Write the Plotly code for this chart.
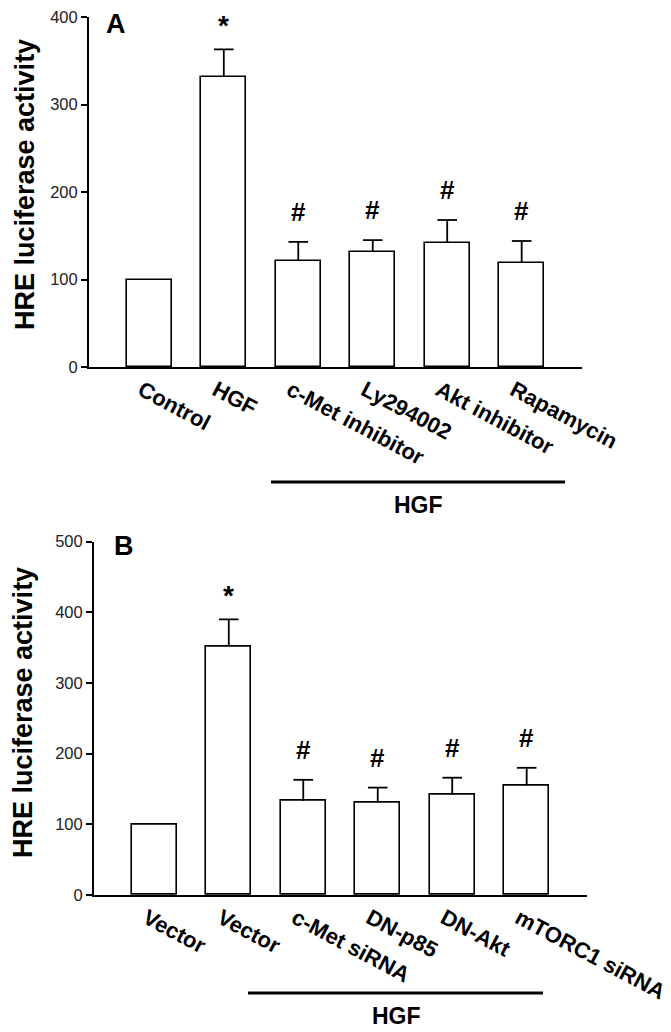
import plotly.graph_objects as go

# ---- data ----
cats_a = ["Control", "HGF", "c-Met inhibitor", "Ly294002", "Akt inhibitor", "Rapamycin"]
vals_a = [100, 332, 121, 132, 142, 119]
errs_a = [0, 31, 22, 13, 26, 25]
marks_a = ["", "*", "#", "#", "#", "#"]

cats_b = ["Vector", "Vector", "c-Met siRNA", "DN-p85", "DN-Akt", "mTORC1 siRNA"]
vals_b = [100, 352, 133, 131, 142, 155]
errs_b = [0, 38, 30, 21, 24, 25]
marks_b = ["", "*", "#", "#", "#", "#"]

yticks_a = [0, 100, 200, 300, 400]
yticks_b = [0, 100, 200, 300, 400, 500]

FONT = "Liberation Sans, Arial, sans-serif"
OFF = 8                      # page body margin offset
W, H = 671 - OFF, 1032 - OFF

def py(p):
    return 1 - (p - OFF) / H

def px(p):
    return (p - OFF) / W

fig = go.Figure()

for cats, vals, errs, xa, ya in [(cats_a, vals_a, errs_a, "x", "y"),
                                 (cats_b, vals_b, errs_b, "x2", "y2")]:
    xs = list(range(len(cats)))
    sx, sy, cx, cy = [], [], [], []
    for i, (v, e) in enumerate(zip(vals, errs)):
        if e > 0:
            sx += [i, i, None]
            sy += [v, v + e, None]
            cx.append(i)
            cy.append(v + e)
    fig.add_trace(go.Scatter(x=sx, y=sy, mode="lines",
                             line=dict(color="black", width=1.8),
                             xaxis=xa, yaxis=ya, showlegend=False, hoverinfo="skip"))
    fig.add_trace(go.Scatter(x=cx, y=cy, mode="markers",
                             marker=dict(symbol="line-ew", size=14,
                                         line=dict(color="black", width=1.8)),
                             xaxis=xa, yaxis=ya, showlegend=False, hoverinfo="skip"))
    fig.add_trace(go.Bar(
        x=xs, y=vals,
        marker=dict(color="white", line=dict(color="black", width=1.6)),
        width=0.6,
        xaxis=xa, yaxis=ya, showlegend=False, hoverinfo="skip",
    ))

xcommon = dict(range=[-0.81, 5.81], showline=True, linecolor="black", linewidth=2,
               ticks="", tickangle=28, showgrid=False, zeroline=False, automargin=False,
               ticklabelshift=-8, ticklabeloverflow="allow",
               tickfont=dict(family=FONT, size=22, color="black", weight="bold"),
               tickvals=list(range(6)))
ycommon = dict(showline=True, linecolor="black", linewidth=2, ticks="outside",
               ticklen=6, tickwidth=1.5, tickcolor="black", showgrid=False,
               zeroline=False, automargin=False, ticklabeloverflow="allow",
               tickfont=dict(family=FONT, size=16.5, color="#222"))

fig.update_layout(
    width=W, height=H, margin=dict(l=0, r=0, t=0, b=0, pad=0),
    plot_bgcolor="white", paper_bgcolor="white", bargap=0,
    xaxis=dict(domain=[px(89), px(582)], anchor="y", ticktext=cats_a, **xcommon),
    yaxis=dict(domain=[py(367), py(17)], anchor="x", range=[0, 400],
               tickvals=yticks_a, **ycommon),
    xaxis2=dict(domain=[px(94), px(587)], anchor="y2", ticktext=cats_b, **xcommon),
    yaxis2=dict(domain=[py(895), py(541.7)], anchor="x2", range=[0, 500],
                tickvals=yticks_b, **ycommon),
)

ann = []
for vals, errs, marks, xr, yr in [(vals_a, errs_a, marks_a, "x", "y"),
                                  (vals_b, errs_b, marks_b, "x2", "y2")]:
    for i, (v, e, m) in enumerate(zip(vals, errs, marks)):
        if m:
            ann.append(dict(x=i, y=v + e, xref=xr, yref=yr, text=m, showarrow=False,
                            yanchor="bottom", yshift=(7 if m == "*" else 14),
                            borderpad=0,
                            font=dict(family=FONT, size=(28 if m == "*" else 26),
                                      color="black", weight="bold")))

# panel letters
ann.append(dict(x=px(105), y=py(8), xref="paper", yref="paper", text="A",
                showarrow=False, xanchor="left", yanchor="top", borderpad=0,
                font=dict(family=FONT, size=27, color="black", weight="bold")))
ann.append(dict(x=px(113), y=py(530), xref="paper", yref="paper", text="B",
                showarrow=False, xanchor="left", yanchor="top", borderpad=0,
                font=dict(family=FONT, size=27, color="black", weight="bold")))
# y titles
ann.append(dict(x=px(25), y=py(185), xref="paper", yref="paper",
                text="HRE luciferase activity", textangle=-90, showarrow=False,
                xanchor="center", yanchor="middle", borderpad=0,
                font=dict(family=FONT, size=27, color="black", weight="bold")))
ann.append(dict(x=px(23), y=py(713), xref="paper", yref="paper",
                text="HRE luciferase activity", textangle=-90, showarrow=False,
                xanchor="center", yanchor="middle", borderpad=0,
                font=dict(family=FONT, size=27, color="black", weight="bold")))
# HGF group labels
ann.append(dict(x=px(418), y=py(505), xref="paper", yref="paper", text="HGF",
                showarrow=False, xanchor="center", yanchor="middle",
                font=dict(family=FONT, size=23, color="black", weight="bold")))
ann.append(dict(x=px(396), y=py(1016), xref="paper", yref="paper", text="HGF",
                showarrow=False, xanchor="center", yanchor="middle",
                font=dict(family=FONT, size=23, color="black", weight="bold")))

fig.update_layout(annotations=ann)

fig.add_shape(type="line", xref="paper", yref="paper",
              x0=px(271), x1=px(565), y0=py(482), y1=py(482),
              line=dict(color="black", width=3.2))
fig.add_shape(type="line", xref="paper", yref="paper",
              x0=px(248), x1=px(543), y0=py(993), y1=py(993),
              line=dict(color="black", width=3.2))

fig.write_html("out.html")
